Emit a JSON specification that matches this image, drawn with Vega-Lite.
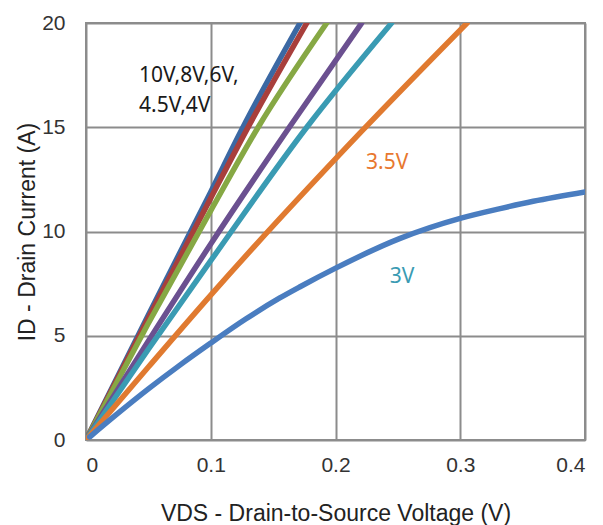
{
  "$schema": "https://vega.github.io/schema/vega-lite/v6.json",
  "width": 499,
  "height": 417,
  "autosize": {"type": "none"},
  "padding": {"left": 86, "top": 23, "right": 18, "bottom": 85},
  "background": "white",
  "config": {
    "view": {"stroke": "#8c8c8c", "strokeWidth": 2},
    "font": "Liberation Sans",
    "axis": {
      "domain": false,
      "ticks": false,
      "grid": true,
      "gridColor": "#8c8c8c",
      "gridWidth": 2,
      "gridOpacity": 1,
      "labelFont": "Liberation Sans",
      "labelFontSize": 21,
      "labelColor": "#333333",
      "titleFont": "Liberation Sans",
      "titleFontSize": 23,
      "titleFontWeight": "normal",
      "titleColor": "#222222"
    }
  },
  "datasets": {
    "curves": [
      {"vgs": "10V", "vds": 0.0, "id": 0.0},
      {"vgs": "10V", "vds": 0.05, "id": 6.0},
      {"vgs": "10V", "vds": 0.1, "id": 11.9},
      {"vgs": "10V", "vds": 0.125, "id": 14.9},
      {"vgs": "10V", "vds": 0.1716, "id": 20.0},
      {"vgs": "8V", "vds": 0.0, "id": 0.0},
      {"vgs": "8V", "vds": 0.05, "id": 5.85},
      {"vgs": "8V", "vds": 0.1, "id": 11.6},
      {"vgs": "8V", "vds": 0.129, "id": 14.9},
      {"vgs": "8V", "vds": 0.177, "id": 20.0},
      {"vgs": "6V", "vds": 0.0, "id": 0.0},
      {"vgs": "6V", "vds": 0.05, "id": 5.6},
      {"vgs": "6V", "vds": 0.1, "id": 11.0},
      {"vgs": "6V", "vds": 0.138, "id": 15.0},
      {"vgs": "6V", "vds": 0.193, "id": 20.0},
      {"vgs": "4.5V", "vds": 0.0, "id": 0.0},
      {"vgs": "4.5V", "vds": 0.05, "id": 4.75},
      {"vgs": "4.5V", "vds": 0.1, "id": 9.4},
      {"vgs": "4.5V", "vds": 0.163, "id": 15.0},
      {"vgs": "4.5V", "vds": 0.221, "id": 20.0},
      {"vgs": "4V", "vds": 0.0, "id": 0.0},
      {"vgs": "4V", "vds": 0.05, "id": 4.35},
      {"vgs": "4V", "vds": 0.1, "id": 8.6},
      {"vgs": "4V", "vds": 0.177, "id": 15.0},
      {"vgs": "4V", "vds": 0.245, "id": 20.0},
      {"vgs": "3.5V", "vds": 0.0, "id": 0.0},
      {"vgs": "3.5V", "vds": 0.05, "id": 3.5},
      {"vgs": "3.5V", "vds": 0.1, "id": 6.95},
      {"vgs": "3.5V", "vds": 0.222, "id": 14.87},
      {"vgs": "3.5V", "vds": 0.3055, "id": 20.0},
      {"vgs": "3V", "vds": 0.003, "id": 0.15},
      {"vgs": "3V", "vds": 0.025, "id": 1.25},
      {"vgs": "3V", "vds": 0.05, "id": 2.45},
      {"vgs": "3V", "vds": 0.075, "id": 3.58},
      {"vgs": "3V", "vds": 0.1, "id": 4.65},
      {"vgs": "3V", "vds": 0.128, "id": 5.8},
      {"vgs": "3V", "vds": 0.155, "id": 6.8},
      {"vgs": "3V", "vds": 0.1716, "id": 7.35},
      {"vgs": "3V", "vds": 0.1997, "id": 8.23},
      {"vgs": "3V", "vds": 0.2518, "id": 9.67},
      {"vgs": "3V", "vds": 0.2999, "id": 10.63},
      {"vgs": "3V", "vds": 0.332, "id": 11.1},
      {"vgs": "3V", "vds": 0.3585, "id": 11.45},
      {"vgs": "3V", "vds": 0.4, "id": 11.9}
    ],
    "notes": [
      {"text": "10V,8V,6V,", "vds": 0.0425, "id": 17.45, "color": "#1a1a1a"},
      {"text": "4.5V,4V", "vds": 0.0425, "id": 16.0, "color": "#1a1a1a"},
      {"text": "3.5V", "vds": 0.2245, "id": 13.3, "color": "#e8782f"},
      {"text": "3V", "vds": 0.2435, "id": 7.8, "color": "#3a9bb3"}
    ]
  },
  "layer": [
    {
      "data": {"name": "curves"},
      "mark": {"type": "line", "strokeWidth": 5.5, "clip": true, "strokeCap": "round", "strokeJoin": "round", "interpolate": "monotone"},
      "encoding": {
        "x": {
          "field": "vds", "type": "quantitative",
          "scale": {"domain": [0, 0.4], "nice": false},
          "axis": {"values": [0, 0.1, 0.2, 0.3, 0.4], "format": "~g", "labelPadding": 14, "title": "VDS - Drain-to-Source Voltage (V)", "titlePadding": 27}
        },
        "y": {
          "field": "id", "type": "quantitative",
          "scale": {"domain": [0, 20], "nice": false},
          "axis": {"values": [0, 5, 10, 15, 20], "labelPadding": 21, "title": "ID - Drain Current (A)", "titlePadding": 2}
        },
        "color": {
          "field": "vgs", "type": "nominal",
          "scale": {
            "domain": ["3V", "3.5V", "4V", "4.5V", "6V", "8V", "10V"],
            "range": ["#4a7dc0", "#e07a30", "#3a9bb3", "#6b5090", "#86a844", "#a83f3c", "#3b68a3"]
          },
          "legend": null
        },
        "order": {"field": "vds", "type": "quantitative"}
      }
    },
    {
      "data": {"name": "notes"},
      "mark": {"type": "text", "align": "left", "baseline": "middle", "font": "Noto Sans", "fontSize": 21},
      "encoding": {
        "x": {"field": "vds", "type": "quantitative"},
        "y": {"field": "id", "type": "quantitative"},
        "text": {"field": "text"},
        "color": {"field": "color", "type": "nominal", "scale": null}
      }
    }
  ]
}
